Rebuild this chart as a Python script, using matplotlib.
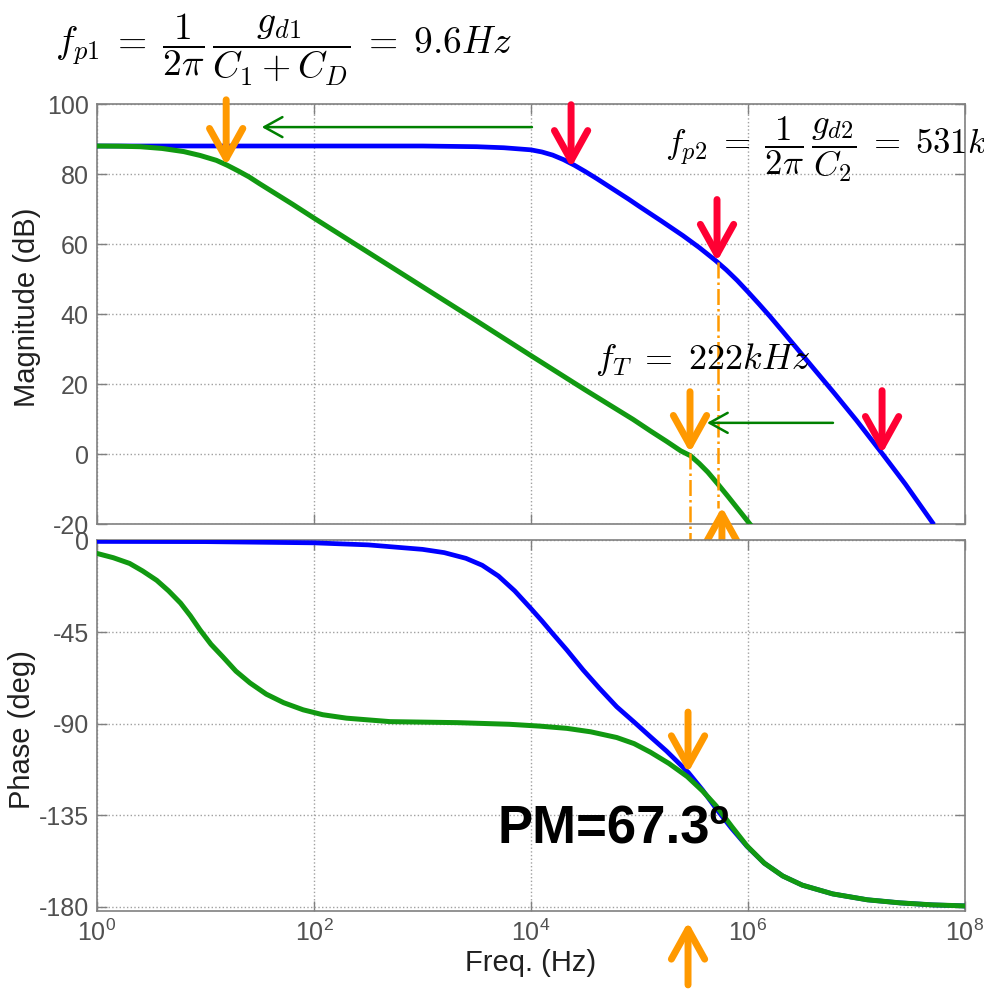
import numpy as np
import matplotlib
matplotlib.use("Agg")
import matplotlib.pyplot as plt
from matplotlib.ticker import NullLocator, FixedLocator, FixedFormatter

plt.rcParams['font.family'] = ['Liberation Sans', 'DejaVu Sans']
plt.rcParams['mathtext.fontset'] = 'custom'
plt.rcParams['mathtext.rm'] = 'Liberation Sans'
plt.rcParams['mathtext.it'] = 'Liberation Sans:italic'
plt.rcParams['axes.unicode_minus'] = False

# values; frequencies given as decades (log10 Hz)
dec_blue_mag = [0, 1, 2, 3, 3.5, 3.75, 4.0, 4.1, 4.2, 4.3, 4.4, 4.5, 4.6, 4.7, 4.8, 4.9, 5.0,
                5.2, 5.4, 5.55, 5.7, 5.8, 5.9, 6.0, 6.1, 6.2, 6.32, 6.45, 6.6, 6.8, 7.0,
                7.24, 7.45, 7.7]
mag_blue = [88.0, 88.0, 88.0, 88.0, 87.8, 87.5, 86.9, 86.3, 85.4, 84.1, 82.5, 80.7, 78.8, 76.8,
            74.8, 72.8, 70.7, 66.6, 62.4, 59.0, 55.3, 52.6, 49.6, 46.3, 42.9, 39.4, 35.0, 30.2,
            24.6, 17.2, 9.6, 0.0, -8.6, -19.6]

dec_green_mag = [0, 0.2, 0.4, 0.6, 0.8, 0.95, 1.1, 1.2, 1.3, 1.4, 1.5, 1.65, 1.8, 2.0, 2.5, 3.0,
                 3.5, 4.0, 4.5, 4.94, 5.1, 5.25, 5.38, 5.47, 5.55, 5.63, 5.72, 5.82, 5.92, 6.03]
mag_green = [88.0, 87.95, 87.8, 87.3, 86.4, 85.3, 83.9, 82.5, 80.9, 79.2, 77.2, 74.3, 71.4, 67.4,
             57.6, 47.8, 38.0, 28.1, 18.3, 9.9, 6.6, 3.6, 0.9, -0.5, -2.7, -5.2, -8.5, -12.3,
             -16.2, -20.5]

dec_blue_ph = [0, 1, 2, 2.5, 3.0, 3.2, 3.4, 3.55, 3.7, 3.85, 4.0, 4.1, 4.2, 4.33, 4.48, 4.63,
               4.79, 4.95, 5.1, 5.25, 5.45, 5.58, 5.71, 5.85, 5.99, 6.15, 6.32, 6.5, 6.78, 7.1,
               7.4, 7.7, 8.0]
ph_blue = [-0.5, -0.6, -1.2, -2.2, -4.4, -6.0, -8.8, -12.2, -17.5, -24.8, -33.5, -39.5, -45.8,
           -53.8, -63.6, -72.6, -81.7, -89.2, -96.4, -103.5, -114.0, -122.5, -132.0, -141.5,
           -150.2, -158.5, -164.8, -169.3, -173.6, -176.5, -178.0, -179.0, -179.5]

dec_green_ph = [0, 0.15, 0.3, 0.42, 0.55, 0.66, 0.77, 0.86, 0.95, 1.05, 1.16, 1.28, 1.41, 1.56,
                1.72, 1.9, 2.08, 2.3, 2.7, 3.32, 3.8, 4.08, 4.33, 4.55, 4.79, 4.95, 5.1, 5.27,
                5.44, 5.58, 5.71, 5.85, 5.99, 6.15, 6.32, 6.5, 6.78, 7.1, 7.4, 7.7, 8.0]
ph_green = [-6.4, -8.5, -11.3, -15.0, -19.6, -24.8, -30.8, -37.0, -44.0, -51.0, -57.2, -64.2,
            -70.0, -75.5, -79.7, -83.2, -85.6, -87.3, -89.0, -89.5, -90.3, -91.2, -92.3, -94.0,
            -96.8, -99.8, -104.0, -109.5, -116.0, -123.0, -130.6, -140.5, -150.0, -158.5,
            -164.8, -169.3, -173.6, -176.5, -178.0, -179.0, -179.5]

x_ticks = [1, 1e2, 1e4, 1e6, 1e8]
x_labels = [r'$10^{0}$', r'$10^{2}$', r'$10^{4}$', r'$10^{6}$', r'$10^{8}$']
mag_ticks = [-20, 0, 20, 40, 60, 80, 100]
ph_ticks = [-180, -135, -90, -45, 0]

BLUE = '#0000ff'
GREEN = '#119911'
RED = '#ff0033'
ORANGE = '#ff9900'
DGREEN = '#008000'
GRAY = '#808080'

fig = plt.figure(figsize=(9.84, 10), dpi=100)
ax1 = fig.add_axes([0.0986, 0.476, 0.8821, 0.420])
ax2 = fig.add_axes([0.0986, 0.089, 0.8821, 0.371])

for ax in (ax1, ax2):
    ax.set_xscale('log')
    ax.set_xlim(1, 1e8)
    ax.xaxis.set_major_locator(FixedLocator(x_ticks))
    ax.xaxis.set_minor_locator(NullLocator())
    ax.grid(True, linestyle=':', color='#a0a0a0', linewidth=1.0)
    ax.tick_params(direction='in', top=True, right=True, length=7, width=1,
                   color=GRAY, labelcolor='#505050', labelsize=18, pad=6)
    for s in ax.spines.values():
        s.set_color(GRAY)
        s.set_linewidth(1.2)

ax1.plot(10.0 ** np.array(dec_blue_mag), mag_blue, color=BLUE, lw=3.4, zorder=3)
ax1.plot(10.0 ** np.array(dec_green_mag), mag_green, color=GREEN, lw=3.6, zorder=3)
ax1.set_ylim(-20, 100)
ax1.set_yticks(mag_ticks)
ax1.set_xticklabels([])
ax1.set_ylabel('Magnitude (dB)', fontsize=21, color='#202020')
ax1.yaxis.set_label_coords(-0.064, 0.517)

ax2.plot(10.0 ** np.array(dec_blue_ph), ph_blue, color=BLUE, lw=3.4, zorder=3)
ax2.plot(10.0 ** np.array(dec_green_ph), ph_green, color=GREEN, lw=3.6, zorder=3)
ax2.set_ylim(-182, 0.2)
ax2.set_yticks(ph_ticks)
ax2.xaxis.set_major_formatter(FixedFormatter(x_labels))
ax2.set_ylabel('Phase (deg)', fontsize=21, color='#202020')
ax2.yaxis.set_label_coords(-0.070, 0.49)
ax2.set_xlabel('Freq. (Hz)', fontsize=21, color='#202020', labelpad=2)


def arrow(ax, x0, y0, x1, y1, color, lw, hl, hw):
    ax.annotate('', xy=(x1, y1), xytext=(x0, y0), annotation_clip=False,
                arrowprops=dict(arrowstyle='->,head_length=%g,head_width=%g' % (hl, hw),
                                color=color, lw=lw, shrinkA=0, shrinkB=0,
                                mutation_scale=20), zorder=5)


# pole / crossover markers
arrow(ax1, 15.5, 101.2, 15.5, 82.4, ORANGE, 5, 1.08, 0.6)
arrow(ax1, 2.34e4, 99.8, 2.34e4, 81.8, RED, 5, 1.08, 0.6)
arrow(ax1, 5.18e5, 72.7, 5.18e5, 55.0, RED, 5, 1.08, 0.6)
arrow(ax1, 1.72e7, 18.1, 1.72e7, 0.1, RED, 5, 1.08, 0.6)
arrow(ax1, 2.92e5, 17.8, 2.92e5, 0.4, ORANGE, 5, 1.08, 0.6)
arrow(ax1, 5.75e5, -32.3, 5.75e5, -15.1, ORANGE, 5, 1.08, 0.6)
arrow(ax1, 1.02e4, 93.4, 33, 93.4, DGREEN, 1.8, 0.65, 0.36)
arrow(ax1, 6.07e6, 8.9, 4.19e5, 8.9, DGREEN, 1.8, 0.65, 0.36)
arrow(ax2, 2.8e5, -84.3, 2.8e5, -114.2, ORANGE, 5, 1.08, 0.6)
arrow(ax2, 2.8e5, -218.3, 2.8e5, -187.4, ORANGE, 5, 1.08, 0.6)

ax1.plot([2.92e5, 2.92e5], [0.4, -73.6], color=ORANGE, lw=1.8, ls='-.', clip_on=False, zorder=4)
ax1.plot([5.3e5, 5.3e5], [55.0, -15.3], color=ORANGE, lw=1.8, ls='-.', clip_on=False, zorder=4)

fig.text(55 / 984, 1 - 50 / 1000,
         r'$f_{p1} \;=\; \dfrac{1}{2\pi}\,\dfrac{g_{d1}}{C_1+C_D} \;=\; 9.6Hz$',
         fontsize=27, math_fontfamily='cm', va='center', ha='left')
fig.text(665 / 984, 1 - 149 / 1000,
         r'$f_{p2} \;=\; \dfrac{1}{2\pi}\,\dfrac{g_{d2}}{C_2} \;=\; 531kHz$',
         fontsize=25, math_fontfamily='cm', va='center', ha='left')
fig.text(595 / 984, 1 - 360 / 1000, r'$f_T \;=\; 222kHz$',
         fontsize=26, math_fontfamily='cm', va='center', ha='left')
fig.text(497 / 984, 1 - 829 / 1000, 'PM=67.3º', fontsize=38, fontweight='bold',
         va='center', ha='left', color='black')

fig.savefig('out.png', dpi=100)
